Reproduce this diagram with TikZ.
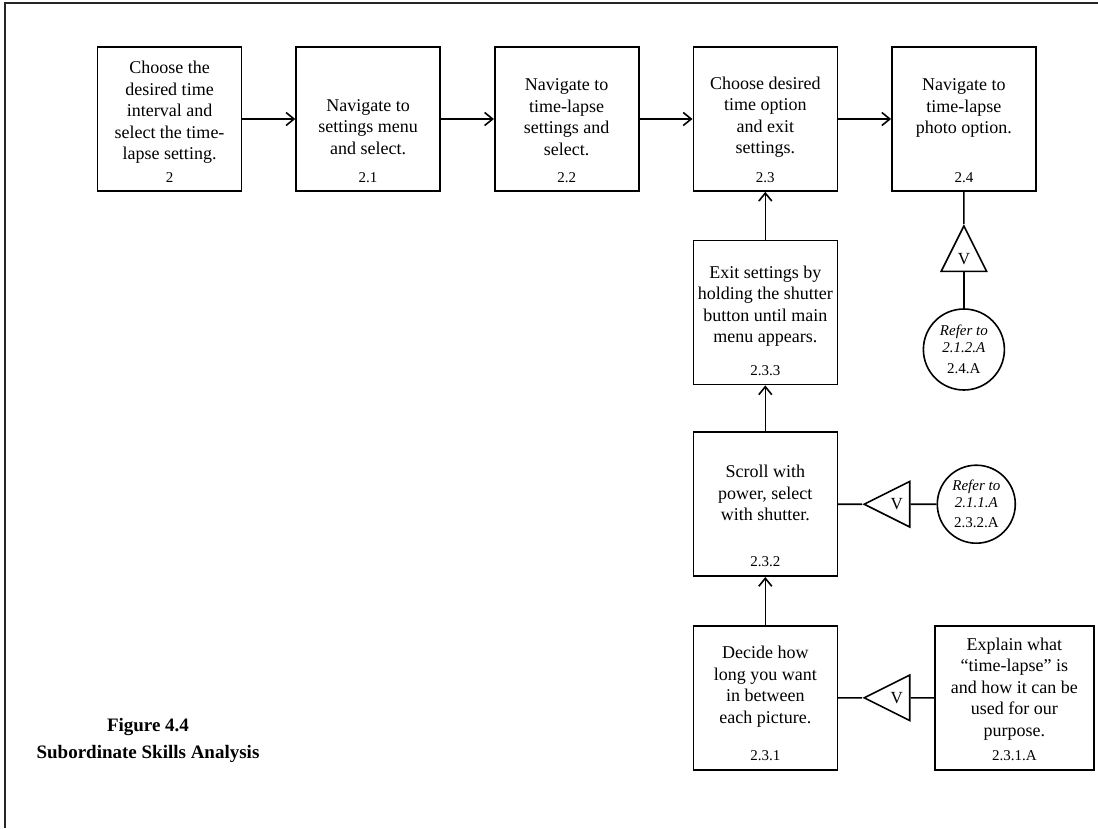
\documentclass[tikz,border=0pt]{standalone}
\usepackage{fontspec}
\setmainfont{Liberation Serif}
\usetikzlibrary{arrows,arrows.meta,positioning,shapes.geometric}

\begin{document}
\begin{tikzpicture}[
  x=1pt,y=-1pt,
  node distance=53pt,
  skill/.style={draw,line width=1.6pt,minimum width=144pt,minimum height=144pt,inner sep=0pt},
  words/.style={align=center,inner sep=0pt,font=\fontsize{18}{21.5}\selectfont},
  code/.style={inner sep=0pt,font=\fontsize{15}{17}\selectfont},
  verbal/.style={draw,line width=1.6pt,isosceles triangle,isosceles triangle stretches,
    minimum width=45.5pt,minimum height=45.5pt,inner sep=0pt,font=\fontsize{17}{20}\selectfont},
  refer/.style={draw,circle,line width=1.6pt,minimum size=80pt,inner sep=0pt,align=center,
    font=\fontsize{15}{17}\selectfont},
  flow/.style={line width=1.6pt,-{Straight Barb[length=8pt,width=13pt]}},
  link/.style={line width=1.6pt}
]
  \useasboundingbox (0,0) rectangle (1098,828);
  \draw[line width=1.6pt,black!85] (5,828) -- (5,3) -- (1098,3);

  % top row
  \node[skill] (b2) at (169.5,119) {};
  \node[skill,right=of b2] (b21) {};
  \node[skill,right=of b21] (b22) {};
  \node[skill,right=of b22] (b23) {};
  \node[skill,right=of b23] (b24) {};

  % column under 2.3
  \node[skill,below=48pt of b23] (b233) {};
  \node[skill,below=46pt of b233] (b232) {};
  \node[skill,below=48pt of b232] (b231) {};
  \node[skill,minimum width=159pt,right=96pt of b231] (b231a) {};

  % texts
  \node[words] (t2) at ([yshift=6.6pt]b2.center) {Choose the\\desired time\\interval and\\select the time-\\lapse setting.};
  \node[words] (t21) at ([yshift=-8pt]b21.center) {Navigate to\\settings menu\\and select.};
  \node[words] (t22) at ([yshift=2pt]b22.center) {Navigate to\\time-lapse\\settings and\\select.};
  \node[words] (t23) at ([yshift=2pt]b23.center) {Choose desired\\time option\\and exit\\settings.};
  \node[words] (t24) at ([yshift=11pt]b24.center) {Navigate to\\time-lapse\\photo option.};
  \node[words] (t233) at ([yshift=6.5pt]b233.center) {Exit settings by\\holding the shutter\\button until main\\menu appears.};
  \node[words] (t232) at ([yshift=11pt]b232.center) {Scroll with\\power, select\\with shutter.};
  \node[words] (t231) at ([yshift=11pt]b231.center) {Decide how\\long you want\\in between\\each picture.};
  \node[words] (t231a) at ([yshift=9pt]b231a.center) {Explain what\\``time-lapse'' is\\and how it can be\\used for our\\purpose.};

  % numbers
  \node[code] (n2) at ([yshift=14pt]b2.south) {2};
  \node[code] (n21) at ([yshift=14pt]b21.south) {2.1};
  \node[code] (n22) at ([yshift=14pt]b22.south) {2.2};
  \node[code] (n23) at ([yshift=14pt]b23.south) {2.3};
  \node[code] (n24) at ([yshift=14pt]b24.south) {2.4};
  \node[code] (n233) at ([yshift=15pt]b233.south) {2.3.3};
  \node[code] (n232) at ([yshift=15pt]b232.south) {2.3.2};
  \node[code] (n231) at ([yshift=15pt]b231.south) {2.3.1};
  \node[code] (n231a) at ([yshift=15pt]b231a.south) {2.3.1.A};

  % verbal information
  \node[verbal,shape border rotate=180,right=24pt of b232] (v232) {V};
  \node[refer,minimum size=78pt,right=26pt of v232] (c232) {\itshape Refer to\\\itshape 2.1.1.A\\[3pt]2.3.2.A};
  \node[verbal,shape border rotate=180,right=24pt of b231] (v231) {V};
  \node[verbal,shape border rotate=90,below=32pt of b24] (v24) {V};
  \node[refer,minimum size=81pt,below=36pt of v24] (c24) {\itshape Refer to\\\itshape 2.1.2.A\\[4pt]2.4.A};

  \draw[flow] (b2) -- (b21);
  \draw[flow] (b21) -- (b22);
  \draw[flow] (b22) -- (b23);
  \draw[flow] (b23) -- (b24);
  \draw[flow] (b233) -- (b23);
  \draw[flow] (b232) -- (b233);
  \draw[flow] (b231) -- (b232);

  \draw[link] (b232.east) -- (v232.apex);
  \draw[link] (v232.lower side) -- (c232);
  \draw[link] (b231.east) -- (v231.apex);
  \draw[link] (v231.lower side) -- (b231a);
  \draw[link] (b24.south) -- (v24.apex);
  \draw[link] (v24.lower side) -- (c24);

  \node[font=\bfseries\fontsize{19}{27}\selectfont,align=center] (caption) at (148,740) {Figure 4.4\\Subordinate Skills Analysis};
\end{tikzpicture}
\end{document}
